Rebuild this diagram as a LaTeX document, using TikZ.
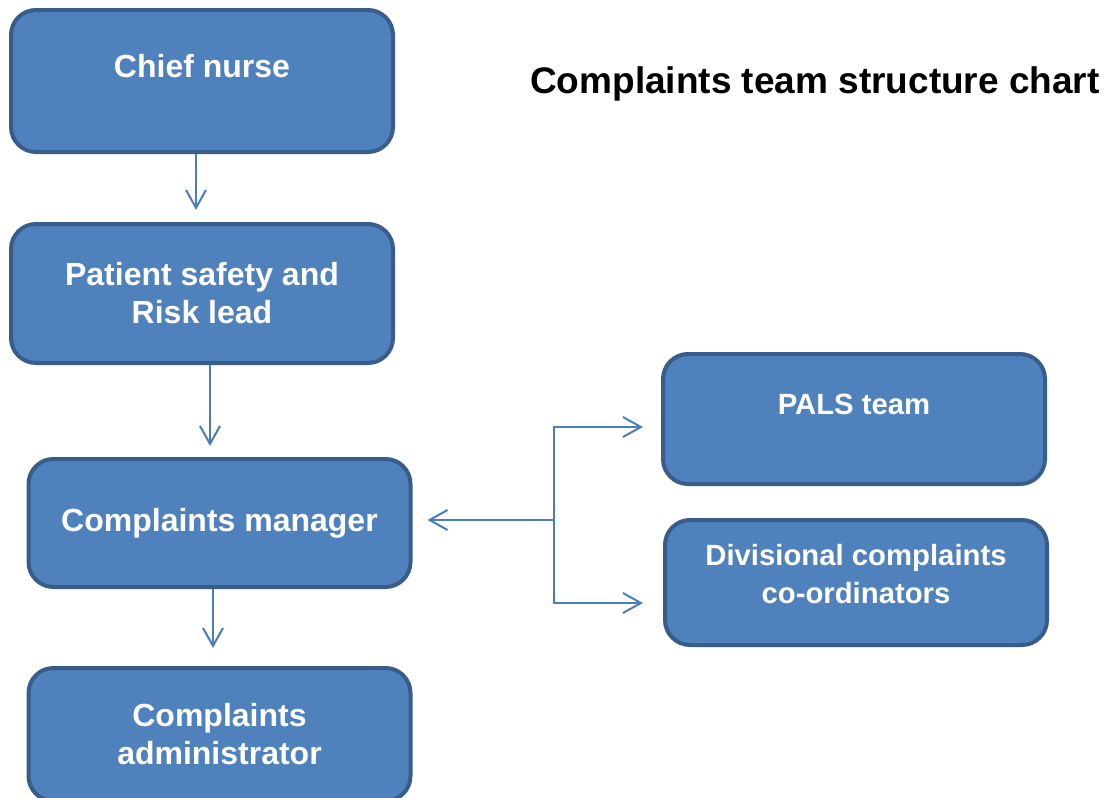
\documentclass[tikz,border=0pt]{standalone}
\usepackage{fontspec}
\setmainfont{Liberation Sans}
\definecolor{BoxFill}{HTML}{4F81BD}
\definecolor{BoxLine}{HTML}{385D8A}
\definecolor{LinkBlue}{HTML}{4A7EBB}
\usetikzlibrary{arrows.meta, positioning}

\begin{document}
\begin{tikzpicture}[x=1pt, y=-1pt,
	role/.style={draw=BoxLine, line width=4pt, fill=BoxFill, rounded corners=25pt, minimum width=382pt, align=center, text=white, font=\fontsize{32}{38}\selectfont\bfseries, inner sep=2pt},
	siderole/.style={role, font=\fontsize{29.3}{38}\selectfont\bfseries},
	link/.style={draw=LinkBlue, line width=2pt, ->},
	>={Straight Barb[length=18pt, width=20pt]}]
	\useasboundingbox (0,0) rectangle (1109,798);
	\node[role, minimum height=142pt] (chief) at (202,81) {Chief nurse\\[-20pt]\strut};
	\node[role, minimum height=139pt, below=68pt of chief] (safety) {Patient safety and\\Risk lead};
	\node[role, minimum height=128pt, below=92pt of safety, xshift=17.5pt] (manager) {Complaints manager};
	\node[role, minimum height=133pt, below=77pt of manager] (admin) {Complaints\\administrator};
	\node[siderole, minimum height=130pt] (pals) at (854,419) {PALS team\\[-20pt]\strut};
	\node[siderole, minimum height=125pt, below=32pt of pals, xshift=2pt] (divisional) {Divisional complaints\\co-ordinators\\[-32pt]\strut};
	\node[font=\fontsize{37}{44}\selectfont\bfseries] (title) at (815,84) {Complaints team structure chart};
	\draw[link, shorten >=12pt] ([xshift=-6pt]chief.south) -- ([xshift=-6pt]chief.south |- safety.north);
	\draw[link, shorten >=11pt] ([xshift=8pt]safety.south) -- ([xshift=8pt]safety.south |- manager.north);
	\draw[link, shorten >=18pt] ([xshift=-6.5pt]manager.south) -- ([xshift=-6.5pt]manager.south |- admin.north);
	\coordinate (hub) at (554,520);
	\draw[link, shorten >=15pt] (hub) -- (hub -| manager.east);
	\draw[link, shorten >=18pt] (hub) |- ([yshift=-8pt]pals.west);
	\draw[link, shorten >=20pt] (hub) |- ([yshift=-20.5pt]divisional.west);
\end{tikzpicture}
\end{document}
